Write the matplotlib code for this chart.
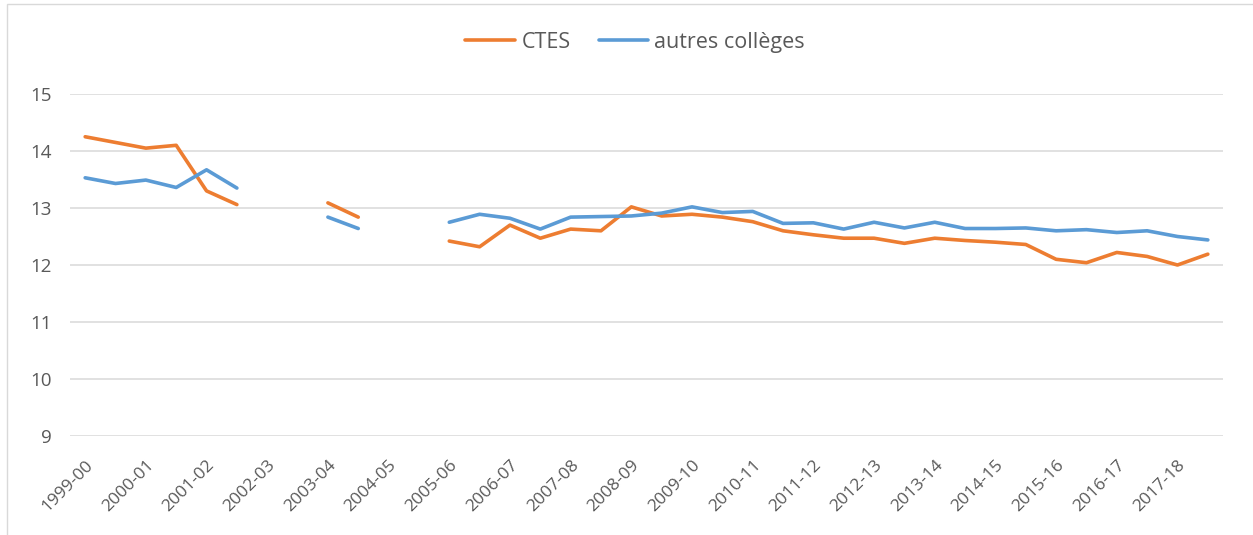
import numpy as np
import matplotlib.pyplot as plt
from matplotlib.patches import Rectangle

nan = np.nan

# two values per school year, 1999-00 .. 2017-18 (gaps = no data)
years = ["1999-00", "2000-01", "2001-02", "2002-03", "2003-04", "2004-05",
         "2005-06", "2006-07", "2007-08", "2008-09", "2009-10", "2010-11",
         "2011-12", "2012-13", "2013-14", "2014-15", "2015-16", "2016-17",
         "2017-18"]

ctes = [14.25, 14.15, 14.05, 14.10, 13.30, 13.06, nan, nan, 13.09, 12.84,
        nan, nan, 12.42, 12.32, 12.70, 12.47, 12.63, 12.60, 13.02, 12.86,
        12.89, 12.84, 12.76, 12.60, 12.53, 12.47, 12.47, 12.38, 12.47, 12.43,
        12.40, 12.36, 12.10, 12.04, 12.22, 12.15, 12.00, 12.19]

autres = [13.53, 13.43, 13.49, 13.36, 13.67, 13.35, nan, nan, 12.84, 12.64,
          nan, nan, 12.75, 12.89, 12.82, 12.63, 12.84, 12.85, 12.86, 12.91,
          13.02, 12.92, 12.94, 12.73, 12.74, 12.63, 12.75, 12.65, 12.75, 12.64,
          12.64, 12.65, 12.60, 12.62, 12.57, 12.60, 12.50, 12.44]

plt.rcParams['font.family'] = ['Open Sans', 'DejaVu Sans']
txt = '#595959'

fig = plt.figure(figsize=(12.53, 5.35), dpi=100)
ax = fig.add_axes([70 / 1253, 1 - 436 / 535, (1223 - 70) / 1253, (436 - 94) / 535])

x = np.arange(len(ctes))
ax.plot(x, ctes, color='#ED7D31', lw=2.6, solid_capstyle='round', label='CTES')
ax.plot(x, autres, color='#5B9BD5', lw=2.6, solid_capstyle='round', label='autres collèges')

ax.set_xlim(-0.5, len(ctes) - 0.5)
ax.set_ylim(9, 15)
ax.set_yticks(range(9, 16))
ax.set_xticks(np.arange(0, len(ctes), 2))
ax.set_xticklabels(years, rotation=45, ha='right', rotation_mode='anchor')

ax.grid(axis='y', color='#D9D9D9', lw=1.1)
ax.set_axisbelow(True)
for s in ax.spines.values():
    s.set_visible(False)
ax.tick_params(axis='both', length=0, labelcolor=txt)
ax.tick_params(axis='y', pad=13, labelsize=13.5)
ax.tick_params(axis='x', pad=15, labelsize=12.5)

fig.legend(loc='center', bbox_to_anchor=(0.507, 0.921), ncol=2, frameon=False,
           fontsize=15.5, labelcolor=txt, handlelength=2.3, handletextpad=0.3,
           columnspacing=1.3)

# chart frame
fig.patches.append(Rectangle((7 / 1253, -0.1), 1.2, 1.1 - 4 / 535,
                             transform=fig.transFigure, fill=False,
                             edgecolor='#D9D9D9', lw=1))

fig.savefig('out.png', dpi=100)
